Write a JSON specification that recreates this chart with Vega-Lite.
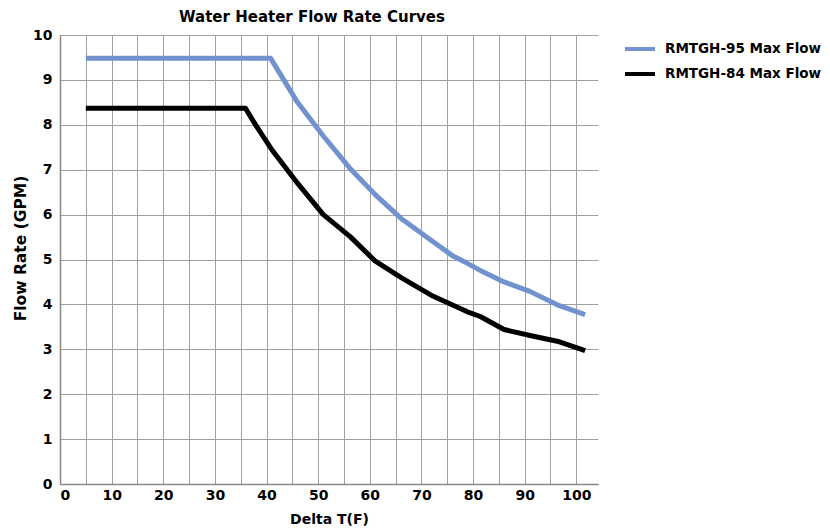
{
  "$schema": "https://vega.github.io/schema/vega-lite/v6.json",
  "width": 538,
  "height": 449,
  "autosize": {"type": "none"},
  "padding": {"left": 60, "top": 35, "right": 232, "bottom": 47},
  "background": "white",
  "title": {"text": "Water Heater Flow Rate Curves", "font": "DejaVu Sans", "fontSize": 15, "fontWeight": "bold", "color": "black", "offset": 3, "dx": -17, "anchor": "middle"},
  "config": {
    "view": {"stroke": null},
    "font": "DejaVu Sans"
  },
  "data": {
    "values": [
      {"series": "RMTGH-95 Max Flow", "dt": 5, "gpm": 9.48},
      {"series": "RMTGH-95 Max Flow", "dt": 40.8, "gpm": 9.48},
      {"series": "RMTGH-95 Max Flow", "dt": 46, "gpm": 8.5},
      {"series": "RMTGH-95 Max Flow", "dt": 51, "gpm": 7.75},
      {"series": "RMTGH-95 Max Flow", "dt": 56, "gpm": 7.05},
      {"series": "RMTGH-95 Max Flow", "dt": 61, "gpm": 6.45},
      {"series": "RMTGH-95 Max Flow", "dt": 66, "gpm": 5.92},
      {"series": "RMTGH-95 Max Flow", "dt": 71, "gpm": 5.5},
      {"series": "RMTGH-95 Max Flow", "dt": 76.2, "gpm": 5.07},
      {"series": "RMTGH-95 Max Flow", "dt": 78.8, "gpm": 4.92},
      {"series": "RMTGH-95 Max Flow", "dt": 82, "gpm": 4.72},
      {"series": "RMTGH-95 Max Flow", "dt": 86, "gpm": 4.5},
      {"series": "RMTGH-95 Max Flow", "dt": 91, "gpm": 4.29},
      {"series": "RMTGH-95 Max Flow", "dt": 96.3, "gpm": 3.99},
      {"series": "RMTGH-95 Max Flow", "dt": 101.7, "gpm": 3.77},
      {"series": "RMTGH-84 Max Flow", "dt": 5, "gpm": 8.37},
      {"series": "RMTGH-84 Max Flow", "dt": 35.9, "gpm": 8.37},
      {"series": "RMTGH-84 Max Flow", "dt": 38.1, "gpm": 7.96},
      {"series": "RMTGH-84 Max Flow", "dt": 41, "gpm": 7.45},
      {"series": "RMTGH-84 Max Flow", "dt": 46, "gpm": 6.7},
      {"series": "RMTGH-84 Max Flow", "dt": 51, "gpm": 6.0},
      {"series": "RMTGH-84 Max Flow", "dt": 56.2, "gpm": 5.51},
      {"series": "RMTGH-84 Max Flow", "dt": 61, "gpm": 4.97},
      {"series": "RMTGH-84 Max Flow", "dt": 66, "gpm": 4.6},
      {"series": "RMTGH-84 Max Flow", "dt": 72.3, "gpm": 4.18},
      {"series": "RMTGH-84 Max Flow", "dt": 78.8, "gpm": 3.84},
      {"series": "RMTGH-84 Max Flow", "dt": 81.4, "gpm": 3.73},
      {"series": "RMTGH-84 Max Flow", "dt": 86, "gpm": 3.44},
      {"series": "RMTGH-84 Max Flow", "dt": 91.7, "gpm": 3.29},
      {"series": "RMTGH-84 Max Flow", "dt": 96.3, "gpm": 3.18},
      {"series": "RMTGH-84 Max Flow", "dt": 101.7, "gpm": 2.97}
    ]
  },
  "mark": {"type": "line", "strokeWidth": 5, "strokeJoin": "round", "strokeCap": "butt"},
  "encoding": {
    "x": {
      "field": "dt", "type": "quantitative",
      "scale": {"domain": [0, 104.2], "nice": false, "zero": false},
      "axis": {
        "title": "Delta T(F)", "titleFont": "DejaVu Sans", "titleFontSize": 14, "titleFontWeight": "bold", "titleColor": "black", "titlePadding": 10,
        "values": [0,5,10,15,20,25,30,35,40,45,50,55,60,65,70,75,80,85,90,95,100],
        "format": "d",
        "labelExpr": "datum.value % 10 == 0 ? datum.label : ''",
        "labelFont": "DejaVu Sans", "labelFontSize": 14, "labelFontWeight": "bold", "labelColor": "black", "labelPadding": 4,
        "ticks": false, "grid": true, "gridColor": "#a0a0a0", "gridWidth": 1,
        "domainColor": "#888888", "domainWidth": 1.5
      }
    },
    "y": {
      "field": "gpm", "type": "quantitative",
      "scale": {"domain": [0, 10], "nice": false},
      "axis": {
        "title": "Flow Rate (GPM)", "titleFont": "DejaVu Sans", "titleFontSize": 15.5, "titleFontWeight": "bold", "titleColor": "black", "titlePadding": 4, "titleY": 213,
        "values": [0,0.5,1,1.5,2,2.5,3,3.5,4,4.5,5,5.5,6,6.5,7,7.5,8,8.5,9,9.5,10],
        "format": "d",
        "labelExpr": "datum.value % 1 == 0 ? datum.label : ''",
        "labelFont": "DejaVu Sans", "labelFontSize": 14, "labelFontWeight": "bold", "labelColor": "black", "labelPadding": 8,
        "ticks": false, "grid": true, "gridColor": "#a0a0a0", "gridWidth": 1,
        "domainColor": "#888888", "domainWidth": 1.5
      }
    },
    "color": {
      "field": "series", "type": "nominal",
      "scale": {"domain": ["RMTGH-95 Max Flow", "RMTGH-84 Max Flow"], "range": ["#7192cf", "#000000"]},
      "legend": {
        "title": null, "orient": "none", "legendX": 563, "legendY": -3, "padding": 0,
        "symbolType": "stroke", "symbolStrokeWidth": 4, "symbolSize": 900,
        "labelFont": "DejaVu Sans", "labelFontSize": 13.5, "labelFontWeight": "bold", "labelColor": "black", "labelLimit": 300,
        "rowPadding": -4, "labelOffset": 8
      }
    }
  }
}
